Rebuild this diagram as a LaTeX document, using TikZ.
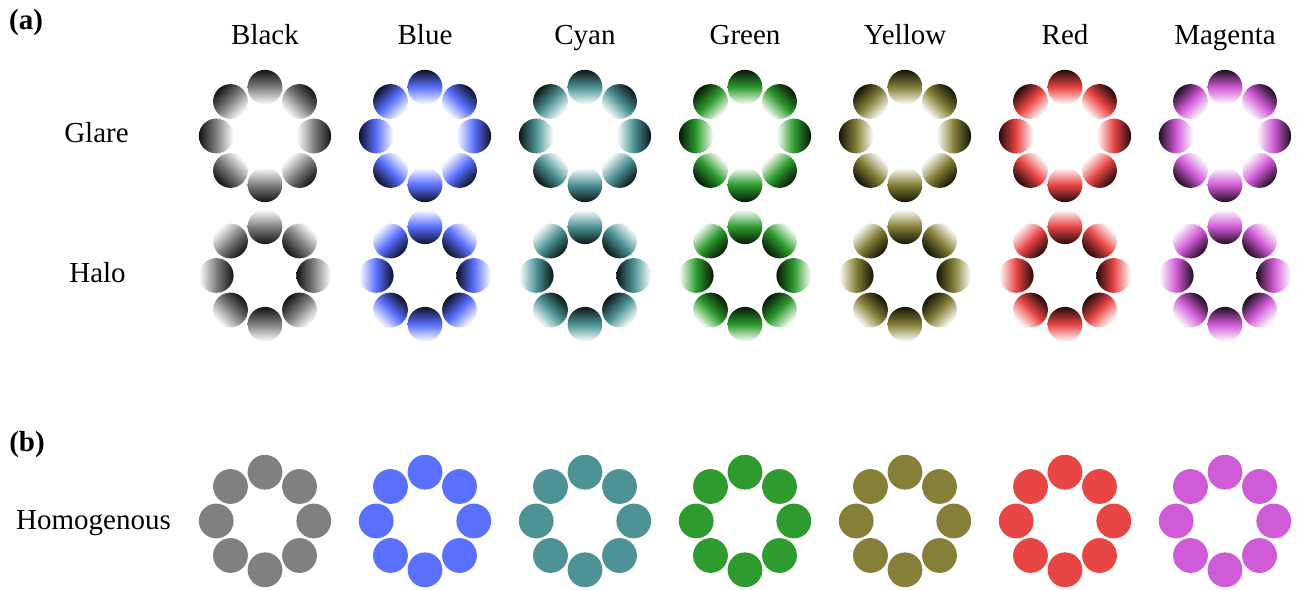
\documentclass[tikz,border=0pt]{standalone}
\usepackage{fontspec}
\setmainfont{Liberation Serif}
\definecolor{cBlack}{HTML}{808080}
\definecolor{cBlue}{HTML}{5A70FF}
\definecolor{cCyan}{HTML}{4D9396}
\definecolor{cGreen}{HTML}{2E9B2E}
\definecolor{cYellow}{HTML}{857F37}
\definecolor{cRed}{HTML}{E84545}
\definecolor{cMagenta}{HTML}{D05BD6}
\begin{document}
\begin{tikzpicture}[x=1pt,y=1pt,
  lbl/.style={font=\fontsize{29}{34}\selectfont, anchor=base, inner sep=0pt}]
\useasboundingbox (0,0) rectangle (1297,589);
\node[lbl] (pa) at (26,559) {\bfseries (a)};
\node[lbl] (pb) at (27,137) {\bfseries (b)};
\node[lbl] (glare) at (96.5,446) {Glare};
\node[lbl] (halo) at (97.5,306) {Halo};
\node[lbl] (homog) at (93.5,60) {Homogenous};
\foreach \name [count=\i from 0] in {Black,Blue,Cyan,Green,Yellow,Red,Magenta}{
  \pgfmathsetmacro{\cx}{265+160*\i}
  \node[lbl] (t\i) at (\cx,544) {\name};
  \foreach \a in {0,45,...,315}{
    \pgfmathsetmacro{\px}{\cx+48.8*cos(\a)}
    \pgfmathsetmacro{\gy}{453+48.8*sin(\a)}
    \pgfmathsetmacro{\hy}{313.5+48.8*sin(\a)}
    \pgfmathsetmacro{\oy}{68+48.8*sin(\a)}
    \pgfmathsetmacro{\rot}{\a-90}
    \shade[transform canvas={rotate around={\rot:(\px,\gy)}},
      top color=c\name!15!black, bottom color=white, middle color=c\name]
      (\px,\gy) circle (17.4);
    \shade[transform canvas={rotate around={\rot:(\px,\hy)}},
      top color=white, bottom color=c\name!15!black, middle color=c\name]
      (\px,\hy) circle (17.4);
    \fill[c\name] (\px,\oy) circle (17.4);
  }
}
\end{tikzpicture}
\end{document}
